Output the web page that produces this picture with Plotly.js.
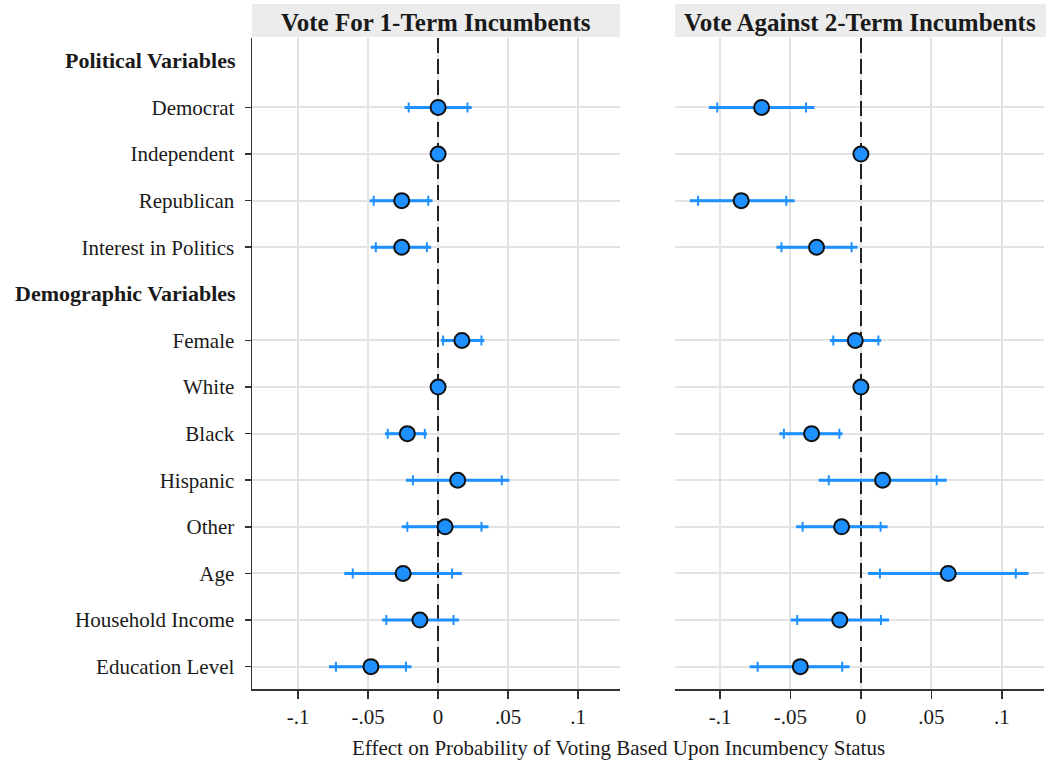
<!DOCTYPE html>
<html>
<head>
<meta charset="utf-8">
<script src="https://cdn.plot.ly/plotly-3.0.1.min.js"></script>
<style>html,body{margin:0;padding:0;background:#fff;}#chart{width:1046px;height:764px;}</style>
</head>
<body>
<div id="chart"></div>
<script>
// ----- data -----
const allRows = ["Political Variables","Democrat","Independent","Republican","Interest in Politics",
  "Demographic Variables","Female","White","Black","Hispanic","Other","Age","Household Income","Education Level"];
const headers = ["Political Variables","Demographic Variables"];
const labels = ["Democrat","Independent","Republican","Interest in Politics","Female","White","Black",
  "Hispanic","Other","Age","Household Income","Education Level"];

const panelTitles = ["Vote For 1-Term Incumbents","Vote Against 2-Term Incumbents"];
const xTickVals = [-0.1,-0.05,0,0.05,0.1];
const xTickText = ["-.1","-.05","0",".05",".1"];
const refLine = [0];
const xTitle = "Effect on Probability of Voting Based Upon Incumbency Status";

// Vote For 1-Term Incumbents
const est1  = [0, 0, -0.026, -0.026, 0.017, 0, -0.022, 0.014, 0.005, -0.025, -0.013, -0.048];
const lo95_1 = [-0.024, null, -0.049, -0.048, 0.002, null, -0.038, -0.023, -0.026, -0.067, -0.040, -0.078];
const hi95_1 = [0.024, null, -0.004, -0.005, 0.033, null, -0.008, 0.051, 0.036, 0.017, 0.015, -0.019];
const lo90_1 = [-0.021, null, -0.046, -0.0445, 0.0036, null, -0.036, -0.018, -0.022, -0.061, -0.037, -0.073];
const hi90_1 = [0.021, null, -0.007, -0.008, 0.031, null, -0.0095, 0.0455, 0.031, 0.010, 0.011, -0.023];

// Vote Against 2-Term Incumbents
const est2  = [-0.0705, 0, -0.085, -0.0315, -0.004, 0, -0.035, 0.0154, -0.0137, 0.062, -0.015, -0.043];
const lo95_2 = [-0.108, null, -0.1215, -0.060, -0.022, null, -0.058, -0.030, -0.046, 0.005, -0.050, -0.079];
const hi95_2 = [-0.033, null, -0.047, -0.0024, 0.0144, null, -0.013, 0.061, 0.019, 0.119, 0.020, -0.008];
const lo90_2 = [-0.102, null, -0.1156, -0.0564, -0.0196, null, -0.0547, -0.0228, -0.0414, 0.0135, -0.0452, -0.0733];
const hi90_2 = [-0.039, null, -0.053, -0.0066, 0.0124, null, -0.0153, 0.0538, 0.014, 0.110, 0.0142, -0.0133];

// ----- styling -----
const BLUE = "#1E90FF";
const FONT = "'Liberation Serif', 'DejaVu Serif', serif";
const TXT = "#1a1a1a";

function plus(est, hi){ return est.map((e,i)=> hi[i]==null ? 0 : hi[i]-e); }
function minus(est, lo){ return est.map((e,i)=> lo[i]==null ? 0 : e-lo[i]); }

function panelTraces(est, lo95, hi95, lo90, hi90, xa, ya){
  return [
    {type:"scatter", mode:"markers", x:est, y:labels, xaxis:xa, yaxis:ya,
     marker:{size:1, opacity:0}, hoverinfo:"skip", showlegend:false,
     error_x:{type:"data", symmetric:false, array:plus(est,hi95), arrayminus:minus(est,lo95),
              color:BLUE, thickness:3, width:0}},
    {type:"scatter", mode:"markers", x:est, y:labels, xaxis:xa, yaxis:ya,
     marker:{size:1, opacity:0}, hoverinfo:"skip", showlegend:false,
     error_x:{type:"data", symmetric:false, array:plus(est,hi90), arrayminus:minus(est,lo90),
              color:BLUE, thickness:2, width:5}},
    {type:"scatter", mode:"markers", x:est, y:labels, xaxis:xa, yaxis:ya, showlegend:false,
     marker:{size:15, color:BLUE, line:{color:"#111", width:2}}}
  ];
}

// hidden helper traces so the overlay axes (dashed reference line at 0) get drawn
function refTrace(xa, ya){
  return {type:"scatter", mode:"markers", x:refLine, y:[labels[0]], xaxis:xa, yaxis:ya,
          marker:{size:1, opacity:0}, hoverinfo:"skip", showlegend:false};
}

const data = [refTrace("x3","y"), refTrace("x4","y2")].concat(
  panelTraces(est1, lo95_1, hi95_1, lo90_1, hi90_1, "x", "y"),
  panelTraces(est2, lo95_2, hi95_2, lo90_2, hi90_2, "x2", "y2")
);

const W = 1046, H = 764, T = 38, B = 75;
const PH = H - T - B;
const xDom1 = [252/W, 620/W];
const xDom2 = [675/W, 1044/W];
const range1 = [-0.133, 0.130];
const range2 = [-0.132, 0.130];

const xBase = {
  tickmode:"array", tickvals:xTickVals, ticktext:xTickText,
  showgrid:true, gridcolor:"#e3e3e3", gridwidth:2, zeroline:false,
  showline:true, linecolor:"#333", linewidth:1.5,
  ticks:"outside", ticklen:8, tickwidth:1.5, tickcolor:"#333",
  tickfont:{family:FONT, size:21, color:TXT}, fixedrange:true
};
const xRef = {
  tickmode:"array", tickvals:refLine, showticklabels:false, ticks:"",
  showgrid:true, gridcolor:"#222", gridwidth:2, griddash:"15px,6px",
  zeroline:false, showline:false, fixedrange:true
};
const yBase = {
  type:"category", categoryorder:"array", categoryarray:allRows,
  range:[13.48, -0.49], tickmode:"array", tickvals:labels, ticktext:labels,
  showgrid:true, gridcolor:"#e3e3e3", gridwidth:2, zeroline:false, fixedrange:true
};

const layout = {
  width:W, height:H,
  margin:{l:0, r:0, t:T, b:B, pad:0},
  paper_bgcolor:"#fff", plot_bgcolor:"#fff",
  showlegend:false,
  xaxis: Object.assign({}, xBase, {domain:xDom1, anchor:"y", range:range1}),
  xaxis2: Object.assign({}, xBase, {domain:xDom2, anchor:"y2", range:range2}),
  xaxis3: Object.assign({}, xRef, {overlaying:"x", anchor:"y", range:range1}),
  xaxis4: Object.assign({}, xRef, {overlaying:"x2", anchor:"y2", range:range2}),
  yaxis: Object.assign({}, yBase, {domain:[0,1], anchor:"x",
     showline:true, linecolor:"#333", linewidth:1.5, ticks:"outside", ticklen:6, tickwidth:1.5,
     tickcolor:"#333", ticklabelstandoff:6, tickfont:{family:FONT, size:21, color:TXT}}),
  yaxis2: Object.assign({}, yBase, {domain:[0,1], anchor:"x2", showline:false, ticks:"",
     showticklabels:false}),
  shapes: [
    {type:"rect", xref:"x domain", x0:0, x1:1, yref:"paper", y0:1+1/PH, y1:1+34/PH,
     fillcolor:"#ececec", line:{width:0}, layer:"below"},
    {type:"rect", xref:"x2 domain", x0:0, x1:1.01, yref:"paper", y0:1+1/PH, y1:1+34/PH,
     fillcolor:"#ececec", line:{width:0}, layer:"below"}
  ],
  annotations: [
    {text:"<b>"+panelTitles[0]+"</b>", xref:"x domain", x:0.5, yref:"paper", y:1+15/PH,
     xanchor:"center", yanchor:"middle", showarrow:false, font:{family:FONT, size:25, color:TXT}},
    {text:"<b>"+panelTitles[1]+"</b>", xref:"x2 domain", x:0.5, yref:"paper", y:1+15/PH,
     xanchor:"center", yanchor:"middle", showarrow:false, font:{family:FONT, size:25, color:TXT}},
    {text:xTitle, xref:"paper", x:618/W, yref:"paper", y:-(748-(H-B))/PH,
     xanchor:"center", yanchor:"middle", showarrow:false, font:{family:FONT, size:21, color:TXT}}
  ].concat(headers.map(h => ({
     text:"<b>"+h+"</b>", xref:"paper", x:238/W, yref:"y", y:h,
     xanchor:"right", yanchor:"middle", showarrow:false, font:{family:FONT, size:22, color:TXT}
  })))
};

Plotly.newPlot("chart", data, layout, {displayModeBar:false, staticPlot:true});
</script>
</body>
</html>
